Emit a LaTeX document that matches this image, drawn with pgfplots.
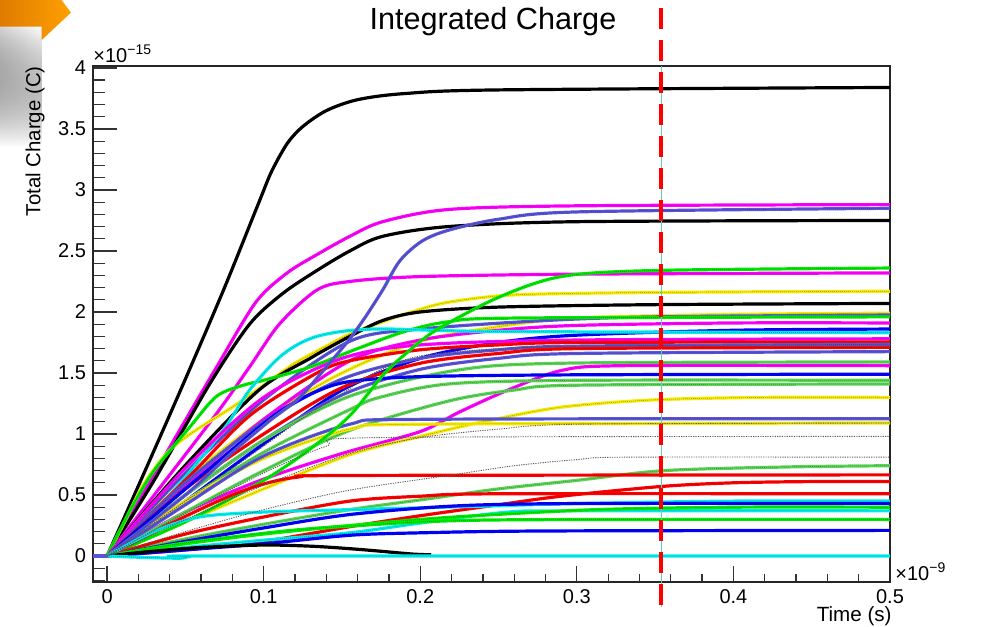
\documentclass[border=0pt]{standalone}
\usepackage{fontspec}
\setmainfont{Liberation Sans}
\usepackage{pgfplots}
\pgfplotsset{compat=1.18}
\usetikzlibrary{fadings}

\definecolor{rred}{RGB}{255,0,0}
\definecolor{rgreen}{RGB}{0,235,0}
\definecolor{rblue}{RGB}{0,0,255}
\definecolor{ryellow}{RGB}{245,235,0}
\definecolor{rmag}{RGB}{255,0,255}
\definecolor{rcyan}{RGB}{0,238,238}
\definecolor{rdg}{RGB}{89,212,84}
\definecolor{rsb}{RGB}{89,84,217}
\definecolor{rturq}{RGB}{90,210,180}
\definecolor{orangeA}{RGB}{222,122,0}
\definecolor{orangeB}{RGB}{255,160,0}

\pgfplotsset{
  qline/.style={line width=1.6pt, color=#1, smooth, tension=0.5,
    postaction={draw=black, draw opacity=0.3, line width=0.35pt, dash pattern=on 0.5pt off 0.5pt}},
  thindots/.style={line width=0.45pt, color=black!65, dash pattern=on 0.6pt off 0.6pt, smooth, tension=0.5},
}

\begin{document}
\begin{tikzpicture}
\path[use as bounding box] (0,0) rectangle (493.5pt,313.5pt);

% slide decoration in the upper left corner
\fill[left color=black!17, right color=white, path fading=south] (0pt,240pt) rectangle (21pt,300.2pt);
\shade[left color=orangeA, right color=orangeB]
  (-1pt,314.5pt) -- (30pt,314.5pt) -- (35.5pt,307.2pt) -- (20.85pt,293.5pt)
  -- (20.85pt,300.2pt) -- (-1pt,300.2pt) -- cycle;

% titles
\node[font=\fontsize{15.3}{16}\selectfont] at (246.5pt,302.5pt) {Integrated Charge};
\node[rotate=90, anchor=east, inner sep=0pt, font=\fontsize{10.2}{11}\selectfont] at (17.5pt,280.5pt) {Total Charge (C)};
\node[anchor=east, inner sep=0pt, font=\fontsize{10.3}{11}\selectfont] at (446pt,5.2pt) {Time (s)};
\node[anchor=base west, inner sep=0pt, font=\fontsize{10}{11}\selectfont] at (46.5pt,282.2pt) {×10\raisebox{4pt}{\fontsize{7}{7}\selectfont −15}};
\node[anchor=base west, inner sep=0pt, font=\fontsize{10}{11}\selectfont] at (447.5pt,23.2pt) {×10\raisebox{4pt}{\fontsize{7}{7}\selectfont −9}};

\begin{axis}[
  at={(46.5pt,22.5pt)}, anchor=south west,
  scale only axis, width=398.5pt, height=258pt,
  xmin=-0.009, xmax=0.5, ymin=-0.213, ymax=4.016,
  clip=false, no markers,
  axis line style={black!85, line width=0.65pt},
  tick align=inside, xtick pos=lower, ytick pos=left,
  xtick={0,0.1,0.2,0.3,0.4,0.5},
  xticklabels={0,0.1,0.2,0.3,0.4,0.5},
  minor xtick={0.02,0.04,0.06,0.08,0.12,0.14,0.16,0.18,0.22,0.24,0.26,0.28,0.32,0.34,0.36,0.38,0.42,0.44,0.46,0.48},
  ytick={0,0.5,1,1.5,2,2.5,3,3.5,4},
  yticklabels={0,0.5,1,1.5,2,2.5,3,3.5,4},
  minor ytick={-0.2,-0.1,0.1,0.2,0.3,0.4,0.6,0.7,0.8,0.9,1.1,1.2,1.3,1.4,1.6,1.7,1.8,1.9,2.1,2.2,2.3,2.4,2.6,2.7,2.8,2.9,3.1,3.2,3.3,3.4,3.6,3.7,3.8,3.9},
  xtick style={/pgfplots/major tick length=8pt, /pgfplots/minor tick length=4pt, black!80, line width=0.65pt},
  ytick style={/pgfplots/major tick length=12pt, /pgfplots/minor tick length=6pt, black!80, line width=0.65pt},
  ticklabel style={font=\fontsize{10}{11}\selectfont},
  scaled ticks=false,
]

% common baseline before t = 0
\addplot[line width=1.6pt, rsb] coordinates {(-0.009,0) (0,0)};

% integrated charge of each channel (x in ns, y in fC)
\addplot[qline=black] coordinates {(0,0)(0.025,0.72)(0.05,1.45)(0.075,2.2)(0.097,2.9)(0.105,3.15)(0.115,3.38)(0.125,3.52)(0.14,3.65)(0.16,3.74)(0.19,3.79)(0.25,3.82)(0.5,3.84)};
\addplot[qline=rmag] coordinates {(0,0)(0.044,0.98)(0.07,1.55)(0.095,2.08)(0.115,2.32)(0.134,2.47)(0.155,2.62)(0.176,2.74)(0.218,2.84)(0.3,2.87)(0.5,2.88)};
\addplot[qline=black] coordinates {(0,0)(0.03,0.62)(0.066,1.42)(0.091,1.9)(0.112,2.15)(0.134,2.34)(0.155,2.5)(0.176,2.62)(0.218,2.7)(0.3,2.74)(0.5,2.75)};
\addplot[qline=rmag] coordinates {(0,0)(0.066,1.1)(0.091,1.55)(0.11,1.9)(0.134,2.18)(0.155,2.25)(0.2,2.29)(0.3,2.31)(0.5,2.32)};
\addplot[qline=ryellow] coordinates {(0,0)(0.01,0.25)(0.023,0.58)(0.038,0.84)(0.053,1.0)(0.08,1.22)(0.1,1.4)(0.12,1.58)(0.14,1.72)(0.155,1.82)(0.176,1.92)(0.197,2.01)(0.218,2.08)(0.26,2.14)(0.35,2.16)(0.5,2.17)};
\addplot[qline=black] coordinates {(0,0)(0.049,0.73)(0.097,1.36)(0.131,1.63)(0.155,1.8)(0.176,1.93)(0.2,2.0)(0.25,2.04)(0.35,2.06)(0.5,2.07)};
\addplot[qline=ryellow] coordinates {(0,0)(0.05,0.62)(0.1,1.12)(0.15,1.5)(0.2,1.76)(0.25,1.88)(0.3,1.95)(0.4,1.98)(0.5,1.99)};
\addplot[qline=rsb] coordinates {(0,0)(0.05,0.68)(0.1,1.28)(0.155,1.76)(0.2,1.86)(0.28,1.93)(0.35,1.96)(0.5,1.975)};
\addplot[qline=rgreen] coordinates {(0,0)(0.015,0.38)(0.03,0.7)(0.053,1.06)(0.07,1.31)(0.087,1.4)(0.1,1.44)(0.13,1.55)(0.16,1.7)(0.19,1.84)(0.218,1.92)(0.26,1.95)(0.5,1.96)};
\addplot[qline=rmag] coordinates {(0,0)(0.05,0.58)(0.1,1.12)(0.155,1.6)(0.2,1.77)(0.25,1.85)(0.3,1.89)(0.4,1.91)(0.5,1.91)};
\addplot[qline=rblue] coordinates {(0,0)(0.05,0.45)(0.1,0.92)(0.15,1.36)(0.2,1.62)(0.25,1.75)(0.3,1.81)(0.4,1.85)(0.5,1.86)};
\addplot[qline=rcyan] coordinates {(0,0)(0.04,0.5)(0.074,1.03)(0.091,1.36)(0.112,1.65)(0.134,1.8)(0.17,1.86)(0.25,1.84)(0.5,1.83)};
\addplot[qline=rmag] coordinates {(0,0)(0.05,0.72)(0.1,1.3)(0.15,1.62)(0.2,1.73)(0.3,1.77)(0.5,1.78)};
\addplot[qline=rred] coordinates {(0,0)(0.05,0.62)(0.091,1.15)(0.134,1.5)(0.155,1.6)(0.2,1.69)(0.25,1.73)(0.3,1.75)(0.5,1.755)};
\addplot[qline=rsb] coordinates {(0,0)(0.05,0.6)(0.1,1.1)(0.15,1.45)(0.2,1.62)(0.25,1.69)(0.3,1.72)(0.5,1.735)};
\addplot[qline=rred] coordinates {(0,0)(0.05,0.55)(0.1,1.0)(0.15,1.38)(0.2,1.58)(0.25,1.66)(0.3,1.7)(0.5,1.71)};
\addplot[qline=rsb] coordinates {(0,0)(0.05,0.5)(0.1,0.95)(0.15,1.32)(0.2,1.53)(0.25,1.62)(0.3,1.66)(0.5,1.675)};
\addplot[qline=rdg] coordinates {(0,0)(0.05,0.5)(0.1,0.95)(0.155,1.31)(0.222,1.52)(0.29,1.58)(0.5,1.59)};
\addplot[qline=rmag] coordinates {(0,0)(0.05,0.36)(0.1,0.63)(0.15,0.84)(0.2,1.02)(0.225,1.18)(0.256,1.36)(0.29,1.52)(0.33,1.56)(0.5,1.56)};
\addplot[qline=rblue] coordinates {(0,0)(0.05,0.55)(0.09,0.98)(0.112,1.2)(0.134,1.35)(0.155,1.43)(0.2,1.47)(0.3,1.485)(0.5,1.49)};
\addplot[qline=rdg] coordinates {(0,0)(0.05,0.45)(0.1,0.85)(0.155,1.2)(0.174,1.3)(0.218,1.41)(0.3,1.44)(0.5,1.44)};
\addplot[qline=rdg] coordinates {(0,0)(0.05,0.36)(0.1,0.7)(0.155,1.03)(0.218,1.27)(0.26,1.36)(0.3,1.4)(0.5,1.41)};
\addplot[qline=ryellow] coordinates {(0,0)(0.05,0.28)(0.1,0.55)(0.155,0.83)(0.2,0.98)(0.24,1.1)(0.29,1.22)(0.35,1.28)(0.42,1.3)(0.5,1.3)};
\addplot[qline=ryellow] coordinates {(0,0)(0.05,0.45)(0.1,0.8)(0.155,1.04)(0.2,1.08)(0.5,1.09)};
\addplot[qline=rsb] coordinates {(0,0)(0.05,0.42)(0.1,0.82)(0.155,1.08)(0.2,1.12)(0.5,1.125)};
\addplot[qline=rsb] coordinates {(0,0)(0.05,0.5)(0.08,0.85)(0.104,1.11)(0.123,1.3)(0.144,1.61)(0.155,1.78)(0.165,1.96)(0.176,2.18)(0.187,2.42)(0.201,2.58)(0.218,2.67)(0.25,2.76)(0.3,2.82)(0.5,2.85)};
\addplot[qline=rgreen] coordinates {(0,0)(0.05,0.28)(0.1,0.62)(0.13,0.88)(0.155,1.15)(0.176,1.48)(0.19,1.65)(0.21,1.85)(0.25,2.12)(0.29,2.29)(0.35,2.34)(0.5,2.36)};
\addplot[qline=rdg] coordinates {(0,0)(0.05,0.14)(0.1,0.26)(0.155,0.38)(0.2,0.46)(0.25,0.55)(0.3,0.62)(0.356,0.7)(0.435,0.73)(0.5,0.74)};
\addplot[qline=rred] coordinates {(0,0)(0.046,0.3)(0.078,0.49)(0.1,0.59)(0.121,0.645)(0.155,0.66)(0.5,0.665)};
\addplot[qline=rred] coordinates {(0,0)(0.05,0.18)(0.1,0.32)(0.155,0.45)(0.2,0.49)(0.25,0.51)(0.5,0.51)};
\addplot[qline=rred] coordinates {(0,0)(0.05,0.05)(0.1,0.12)(0.155,0.24)(0.2,0.33)(0.25,0.42)(0.29,0.49)(0.354,0.57)(0.4,0.6)(0.45,0.61)(0.5,0.61)};
\addplot[qline=rcyan] coordinates {(0,0)(0.03,0.2)(0.059,0.32)(0.1,0.36)(0.155,0.38)(0.244,0.41)(0.3,0.43)(0.4,0.45)(0.5,0.45)};
\addplot[qline=rcyan] coordinates {(0,0)(0.05,0.07)(0.1,0.13)(0.155,0.19)(0.2,0.27)(0.256,0.36)(0.3,0.37)(0.5,0.37)};
\addplot[qline=rblue] coordinates {(0,0)(0.05,0.12)(0.1,0.23)(0.155,0.34)(0.222,0.41)(0.3,0.43)(0.5,0.43)};
\addplot[qline=rgreen] coordinates {(0,0)(0.05,0.1)(0.1,0.18)(0.155,0.25)(0.222,0.32)(0.312,0.38)(0.4,0.4)(0.5,0.4)};
\addplot[qline=rgreen] coordinates {(0,0)(0.046,0.1)(0.11,0.2)(0.155,0.245)(0.244,0.295)(0.5,0.3)};
\addplot[qline=rblue] coordinates {(0,0)(0.05,0.05)(0.1,0.1)(0.155,0.17)(0.2,0.19)(0.278,0.205)(0.5,0.21)};
\addplot[qline=black] coordinates {(0,0)(0.03,0.04)(0.06,0.07)(0.1,0.09)(0.131,0.08)(0.155,0.06)(0.174,0.04)(0.195,0.016)(0.207,0.01)};
\addplot[qline=rcyan] coordinates {(0,0)(0.02,-0.01)(0.046,-0.018)(0.053,-0.005)(0.07,0)(0.5,0)};

% thin dotted channels
\addplot[thindots] coordinates {(0,0)(0.05,0.35)(0.1,0.68)(0.14,0.9)(0.17,0.97)(0.5,0.98)};
\addplot[thindots] coordinates {(0,0)(0.05,0.2)(0.1,0.38)(0.155,0.54)(0.218,0.66)(0.26,0.74)(0.3,0.79)(0.33,0.81)(0.5,0.81)};
\addplot[thindots] coordinates {(0,0)(0.05,0.3)(0.1,0.58)(0.155,0.84)(0.2,0.97)(0.25,1.04)(0.3,1.08)(0.5,1.09)};
\addplot[thindots] coordinates {(0,0)(0.05,0.45)(0.1,0.9)(0.125,1.13)(0.15,1.33)(0.172,1.51)(0.2,1.64)(0.25,1.7)(0.3,1.72)(0.5,1.72)};

% integration window
\addplot[rturq, line width=0.7pt] coordinates {(0.354,-0.418) (0.354,4.016)};
\addplot[rred, line width=2pt, dash pattern=on 10.5pt off 5.5pt] coordinates {(0.354,-0.402) (0.354,4.56)};
\end{axis}
\end{tikzpicture}
\end{document}
